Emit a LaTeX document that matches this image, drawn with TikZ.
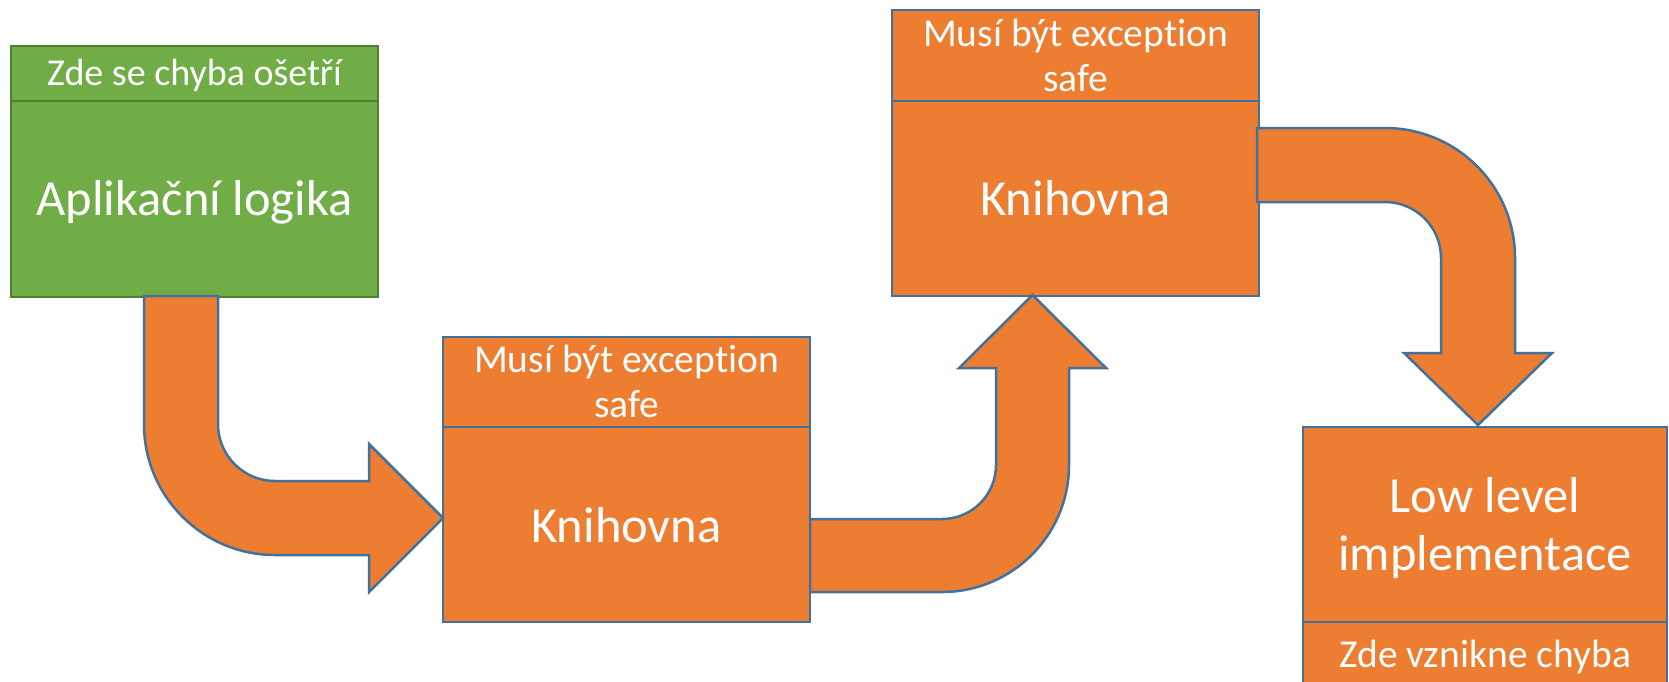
\documentclass[tikz,border=0pt]{standalone}
\usepackage{fontspec}
\setmainfont[Ligatures=NoCommon]{Carlito}
\definecolor{orangeF}{HTML}{ED7D31}
\definecolor{greenF}{HTML}{70AD47}
\definecolor{greenB}{HTML}{507E32}
\definecolor{blueB}{HTML}{41719C}
\begin{document}
\begin{tikzpicture}[x=1pt,y=-1pt,
  obox/.style={draw=blueB, fill=orangeF, line width=2.5pt, rectangle, anchor=north west, inner sep=0pt, outer sep=0pt, minimum width=367pt},
  gbox/.style={obox, draw=greenB, fill=greenF},
  stxt/.style={text=white, anchor=base, inner sep=0pt, align=center, font=\fontsize{39.5}{45}\selectfont},
  btxt/.style={text=white, anchor=base, inner sep=0pt, align=center, font=\fontsize{50.5}{58}\selectfont},
  barrow/.style={draw=blueB, fill=orangeF, line width=2.5pt, line join=miter}]
\useasboundingbox (0,0) rectangle (1669,681);
\clip (0,0) rectangle (1669,681);
% green box
\node[gbox, minimum height=55pt] (ghead) at (11,46) {};
\node[gbox, minimum height=196pt] (gbody) at (11,101) {};
\node[stxt, font=\fontsize{38}{45}\selectfont] (gheadt) at (194.5,85) {Zde se chyba ošetří};
\node[btxt] (gbodyt) at (194.5,215) {Aplikační logika};
% library box 1
\node[obox, minimum height=90pt] (k1head) at (443,337) {};
\node[obox, minimum height=195pt] (k1body) at (443,427) {};
\node[stxt] (k1headt) at (626.5,417) {Musí být exception\\safe};
\node[btxt] (k1bodyt) at (626.5,542) {Knihovna};
% library box 2
\node[obox, minimum height=91pt] (k2head) at (892,10) {};
\node[obox, minimum height=195pt] (k2body) at (892,101) {};
\node[stxt] (k2headt) at (1075.5,91) {Musí být exception\\safe};
\node[btxt] (k2bodyt) at (1075.5,215) {Knihovna};
% low level box
\node[obox, minimum width=364pt, minimum height=195pt] (llbody) at (1303,427) {};
\node[obox, minimum width=364pt, minimum height=100pt] (llhead) at (1303,622) {};
\node[btxt] (llbodyt) at (1485,570) {Low level\\implementace};
\node[stxt] (llheadt) at (1485,667) {Zde vznikne chyba};
% arrow 1: green -> library 1
\path[barrow] (144,296) -- (144,424) arc[start angle=180,end angle=90,radius=131]
  -- (369,555) -- (369,592) -- (443,518) -- (369,444) -- (369,481) -- (275,481)
  arc[start angle=90,end angle=180,radius=57] -- (218,296) -- cycle;
% arrow 2: library 1 -> library 2
\path[barrow] (810,519) -- (942,519) arc[start angle=90,end angle=0,radius=54]
  -- (996,368) -- (959,368) -- (1032.5,295) -- (1106,368) -- (1069,368) -- (1069,465)
  arc[start angle=0,end angle=90,radius=127] -- (810,592) -- cycle;
% arrow 3: library 2 -> low level
\path[barrow] (1257,128) -- (1385,128) arc[start angle=-90,end angle=0,radius=130]
  -- (1515,353) -- (1552,353) -- (1478,425) -- (1404,353) -- (1441,353) -- (1441,258)
  arc[start angle=0,end angle=-90,radius=56] -- (1257,202) -- cycle;
\end{tikzpicture}
\end{document}
